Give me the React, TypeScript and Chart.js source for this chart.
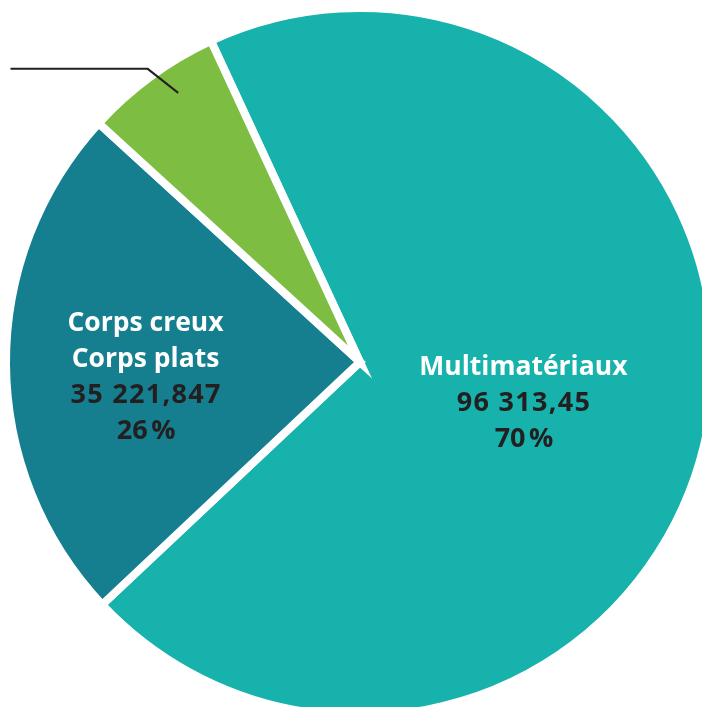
import React, { useEffect, useRef } from "react";
import { Chart, registerables } from "chart.js";

Chart.register(...registerables);

const categories = ["Multimatériaux", "Corps creux\nCorps plats", ""];
const values = [96313.45, 32800, 8680];
const valueLabels = ["96 313,45", "35 221,847", ""];
const percentLabels = ["70\u202f%", "26\u202f%", ""];
const sliceColors = ["#17b2ab", "#167f8f", "#7dbd42"];
const nameColor = "#ffffff";
const numberColor = "#231f20";

// label placement: fraction of radius and angular nudge (degrees) from the slice middle
const labelPlacement = [
  { frac: 0.48, dAngle: 2.55 },
  { frac: 0.614, dAngle: -3.05 },
];

const FONT = "'Open Sans', Roboto, sans-serif";

const labelPlugin = {
  id: "sliceLabels",
  afterDatasetsDraw(chart: any) {
    const ctx = chart.ctx as CanvasRenderingContext2D;
    const meta = chart.getDatasetMeta(0);
    ctx.save();
    ctx.textAlign = "center";
    ctx.textBaseline = "alphabetic";
    labelPlacement.forEach((p, i) => {
      const arc = meta.data[i];
      const { x, y, startAngle, endAngle, outerRadius } = arc.getProps(
        ["x", "y", "startAngle", "endAngle", "outerRadius"],
        true
      );
      const mid = (startAngle + endAngle) / 2 + (p.dAngle * Math.PI) / 180;
      const r = (outerRadius - 4) * p.frac;
      const cx = x + Math.cos(mid) * r;
      const cy = y + Math.sin(mid) * r;
      const names = categories[i].split("\n");
      const lines: { t: string; c: string; num: boolean }[] = [];
      names.forEach((n) => lines.push({ t: n, c: nameColor, num: false }));
      lines.push({ t: valueLabels[i], c: numberColor, num: true });
      lines.push({ t: percentLabels[i], c: numberColor, num: true });
      const pitch = 36;
      const top = cy - ((lines.length - 1) * pitch) / 2;
      lines.forEach((l, k) => {
        ctx.fillStyle = l.c;
        if (l.num) {
          ctx.font = `bold 27px ${FONT}`;
          (ctx as any).letterSpacing = "1.3px";
          ctx.fillText(l.t, cx + 0.65, top + k * pitch + 9.7);
        } else {
          ctx.font = `bold 26.5px ${FONT}`;
          (ctx as any).letterSpacing = "0px";
          ctx.fillText(l.t, cx, top + k * pitch + 9.5);
        }
      });
    });
    (ctx as any).letterSpacing = "0px";

    // leader line for the small green slice (label is outside the frame)
    const g = meta.data[2];
    const gp = g.getProps(["x", "y", "startAngle", "endAngle", "outerRadius"], true);
    const gm = (gp.startAngle + gp.endAngle) / 2 + (2.2 * Math.PI) / 180;
    const gr = (gp.outerRadius - 4) * 0.928;
    const ex = gp.x + Math.cos(gm) * gr;
    const ey = gp.y + Math.sin(gm) * gr;
    ctx.strokeStyle = "#231f20";
    ctx.lineWidth = 2;
    ctx.beginPath();
    ctx.moveTo(ex, ey);
    ctx.lineTo(ex - 30.5, ey - 24);
    ctx.lineTo(10.5, ey - 24);
    ctx.stroke();
    ctx.restore();
  },
};

export default function App() {
  const canvasRef = useRef<HTMLCanvasElement | null>(null);

  useEffect(() => {
    const canvas = canvasRef.current;
    if (!canvas) return;
    const chart = new Chart(canvas, {
      type: "pie",
      data: {
        labels: categories.map((c) => c.replace("\n", " / ")),
        datasets: [
          {
            data: values,
            backgroundColor: sliceColors,
            borderColor: "#ffffff",
            borderWidth: 8,
            hoverBorderWidth: 8,
            hoverOffset: 0,
            borderJoinStyle: "miter",
          } as any,
        ],
      },
      options: {
        responsive: false,
        animation: false,
        rotation: -24.9,
        radius: 354,
        layout: { padding: 0 },
        events: [],
        plugins: {
          legend: { display: false },
          tooltip: { enabled: false },
        },
      },
      plugins: [labelPlugin],
    });
    return () => chart.destroy();
  }, []);

  return (
    <div
      style={{
        position: "fixed",
        left: 0,
        top: 0,
        width: 702,
        height: 707,
        overflow: "hidden",
        background: "#ffffff",
      }}
    >
      <canvas
        ref={canvasRef}
        width={720}
        height={724}
        style={{ position: "absolute", left: 0, top: 0, width: 720, height: 724 }}
      />
    </div>
  );
}
